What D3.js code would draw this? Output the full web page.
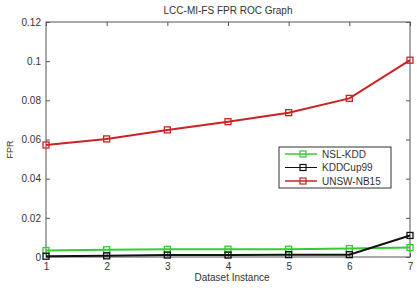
<!DOCTYPE html>
<html><head><meta charset="utf-8">
<script src="https://cdn.jsdelivr.net/npm/d3@7"></script>
<style>body{margin:0;background:#fff}svg{display:block}text{font-family:"Liberation Sans",Arial,sans-serif}</style>
</head><body><svg id="c" width="417" height="290"></svg>
<script>
const instances = [1,2,3,4,5,6,7];
const nslKdd   = [0.0033,0.0037,0.0039,0.0040,0.0040,0.0043,0.0048];
const kddCup99 = [0.0004,0.0006,0.0010,0.0010,0.0012,0.0012,0.0110];
const unswNb15 = [0.0572,0.0603,0.0649,0.0691,0.0737,0.0810,0.1005];
const yTicks = [0,0.02,0.04,0.06,0.08,0.1,0.12];
const yTickLabels = ["0","0.02","0.04","0.06","0.08","0.1","0.12"];
const seriesNames = ["NSL-KDD","KDDCup99","UNSW-NB15"];
const seriesColors = ["#33cc33","#111111","#cc2222"];

const svg = d3.select("#c");
const L=46,R=410,T=22,B=257;
const x = d3.scaleLinear().domain([1,7]).range([L,R]);
const y = d3.scaleLinear().domain([0,0.12]).range([B,T]);
const axisCol="#555";

svg.append("rect").attr("x",L).attr("y",T).attr("width",R-L).attr("height",B-T)
  .attr("fill","none").attr("stroke",axisCol).attr("stroke-width",1);

const gx = svg.append("g").attr("transform",`translate(0,${B})`)
  .call(d3.axisBottom(x).tickValues(instances).tickFormat(d3.format("d")).tickSizeInner(-4).tickSizeOuter(0).tickPadding(6));
const gx2 = svg.append("g").attr("transform",`translate(0,${T})`)
  .call(d3.axisTop(x).tickValues(instances).tickFormat("").tickSizeInner(-4).tickSizeOuter(0));
const gy = svg.append("g").attr("transform",`translate(${L},0)`)
  .call(d3.axisLeft(y).tickValues(yTicks).tickFormat((d,i)=>yTickLabels[i]).tickSizeInner(-4).tickSizeOuter(0).tickPadding(5));
const gy2 = svg.append("g").attr("transform",`translate(${R},0)`)
  .call(d3.axisRight(y).tickValues(yTicks).tickFormat("").tickSizeInner(-4).tickSizeOuter(0));
[gx,gx2,gy,gy2].forEach(g=>{
  g.select(".domain").remove();
  g.selectAll("line").attr("stroke",axisCol);
  g.selectAll("text").attr("fill","#333").style("font-size","10px");
});

svg.append("text").attr("x",(L+R)/2).attr("y",14).attr("text-anchor","middle")
  .attr("fill","#333").style("font-size","10px").text("LCC-MI-FS FPR ROC Graph");
svg.append("text").attr("x",(L+R)/2+4).attr("y",281).attr("text-anchor","middle")
  .attr("fill","#333").style("font-size","10px").text("Dataset Instance");
svg.append("text").attr("transform",`translate(13,${(T+B)/2+10}) rotate(-90)`).attr("text-anchor","middle")
  .attr("fill","#333").style("font-size","9px").text("FPR");

const data=[nslKdd,kddCup99,unswNb15];
const line=d3.line().x((d,i)=>x(instances[i])).y(d=>y(d));
data.forEach((vals,k)=>{
  svg.append("path").attr("d",line(vals)).attr("fill","none")
    .attr("stroke",seriesColors[k]).attr("stroke-width",k===1?2:2);
  svg.selectAll(null).data(vals).enter().append("rect")
    .attr("x",(d,i)=>x(instances[i])-3).attr("y",d=>y(d)-3)
    .attr("width",6).attr("height",6).attr("fill","none")
    .attr("stroke",seriesColors[k]).attr("stroke-width",1.3);
});

// legend
const lg=svg.append("g");
lg.append("rect").attr("x",279).attr("y",147).attr("width",112).attr("height",41)
  .attr("fill","#fff").attr("stroke","#333").attr("stroke-width",1);
seriesNames.forEach((n,k)=>{
  const yy=154+k*13.5;
  lg.append("line").attr("x1",285).attr("x2",317).attr("y1",yy).attr("y2",yy)
    .attr("stroke",seriesColors[k]).attr("stroke-width",k===1?1:1.5);
  lg.append("rect").attr("x",300).attr("y",yy-3).attr("width",6).attr("height",6)
    .attr("fill","none").attr("stroke",seriesColors[k]).attr("stroke-width",1.2);
  lg.append("text").attr("x",322).attr("y",yy+3.5).attr("fill","#333")
    .style("font-size","10px").text(n);
});
</script></body></html>
